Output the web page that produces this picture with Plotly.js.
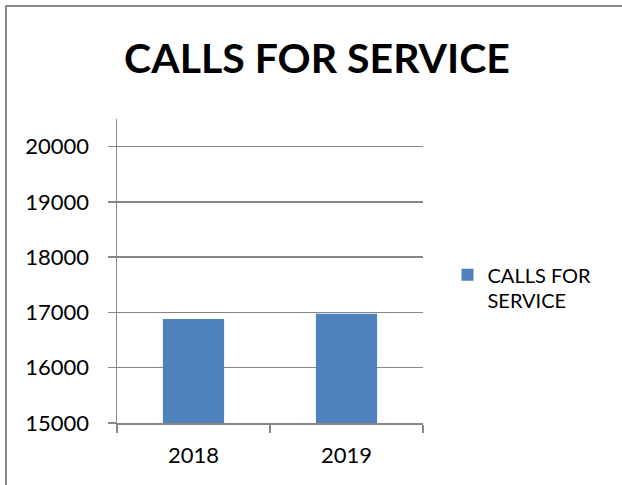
<!DOCTYPE html>
<html>
<head>
<meta charset="utf-8">
<script src="https://cdn.plot.ly/plotly-3.0.1.min.js"></script>
<style>
  html, body { margin: 0; padding: 0; background: #fff; overflow: hidden; }
  #wrap { position: relative; width: 622px; height: 485px; }
  #plot { width: 622px; height: 485px; }
  #frame { position: absolute; left: 5px; top: 5px; width: 700px; height: 600px;
           border-left: 2px solid #8a8a8a; border-top: 2px solid #8a8a8a; pointer-events: none; }
</style>
</head>
<body>
<div id="wrap">
  <div id="plot"></div>
  <div id="frame"></div>
</div>
<script>
const chartTitle = "CALLS FOR SERVICE";
const categories = ["2018", "2019"];
const seriesName = "CALLS FOR<br>SERVICE";
const callsForService = [16880, 16975];
const yTickValues = [15000, 16000, 17000, 18000, 19000, 20000];
const yTickLabels = ["15000", "16000", "17000", "18000", "19000", "20000"];

const gridColor = "#878787";
const font = "Lato, 'Open Sans', Arial, sans-serif";

const data = [{
  type: "bar",
  x: categories,
  y: callsForService,
  name: seriesName,
  marker: { color: "#4F81BD", line: { width: 0 } },
  showlegend: true,
  hoverinfo: "x+y"
}];

const layout = {
  width: 622,
  height: 485,
  paper_bgcolor: "#ffffff",
  plot_bgcolor: "#ffffff",
  margin: { l: 116.5, r: 199, t: 119, b: 62 },
  font: { family: font, color: "#000000" },
  title: {
    text: "<b>" + chartTitle + "</b>",
    font: { family: font, size: 41, color: "#000000" },
    xref: "container", x: 0.5096, xanchor: "center",
    yref: "container", y: 0.88, yanchor: "middle"
  },
  bargap: 0.6,
  xaxis: {
    type: "category",
    showline: true, linecolor: gridColor, linewidth: 1.5,
    ticks: "outside", tickson: "boundaries", ticklen: 8, tickcolor: gridColor, tickwidth: 1.5,
    tickfont: { family: font, size: 22, color: "#000000" },
    ticklabelstandoff: 12,
    showgrid: false, zeroline: false, fixedrange: true
  },
  yaxis: {
    range: [15000, 20500],
    tickmode: "array", tickvals: yTickValues, ticktext: yTickLabels,
    showline: true, linecolor: gridColor, linewidth: 1.5,
    ticks: "outside", ticklen: 8, tickcolor: gridColor, tickwidth: 1.5,
    showgrid: true, gridcolor: gridColor, gridwidth: 1.5,
    tickfont: { family: font, size: 22, color: "#000000" },
    ticklabelstandoff: 14,
    zeroline: false, fixedrange: true
  },
  legend: {
    x: 1.08, xanchor: "left",
    y: 0.552, yanchor: "top",
    valign: "top",
    font: { family: font, size: 20, color: "#000000" },
    bgcolor: "rgba(0,0,0,0)", borderwidth: 0
  },
  showlegend: true
};

Plotly.newPlot("plot", data, layout, { displayModeBar: false, staticPlot: true });
</script>
</body>
</html>
